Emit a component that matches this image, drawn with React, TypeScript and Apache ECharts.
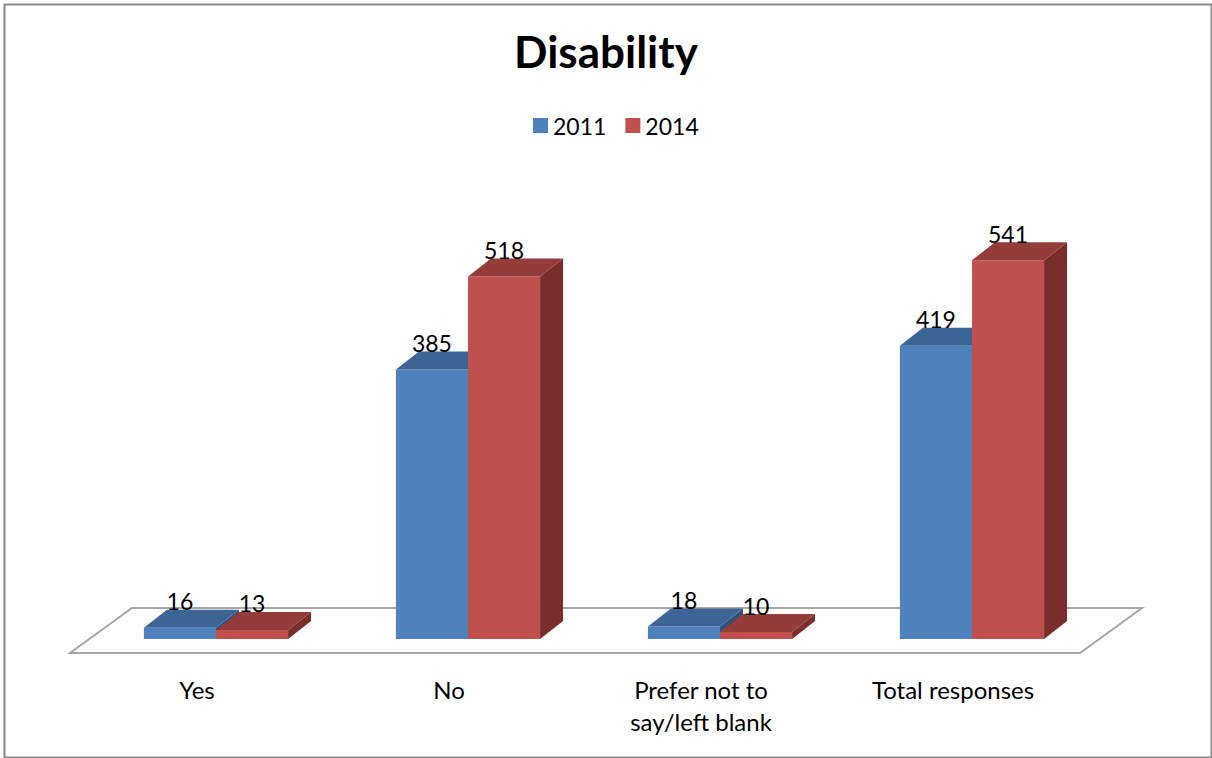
import React, { useEffect, useRef } from "react";
import * as echarts from "echarts";

const categories = ["Yes", "No", "Prefer not to\nsay/left blank", "Total responses"];
const seriesNames = ["2011", "2014"];
const values2011 = [16, 385, 18, 419];
const values2014 = [13, 518, 10, 541];

const FONT = "Lato, 'Open Sans', sans-serif";
const palette = [
  { front: "#4F81BD", top: "#3C6596", side: "#2F5178" },
  { front: "#C0504D", top: "#933C3A", side: "#7A2E2C" },
];
const DEPTH_X = 23;
const DEPTH_Y = 18;
const BAR_RATIO = 0.286;

function makeBarRender(k: number) {
  return (params: any, api: any) => {
    const idx = api.value(0);
    const val = api.value(1);
    const base = api.coord([idx, 0]);
    const top = api.coord([idx, val]);
    const w = api.size([1, 0])[0] * BAR_RATIO;
    const x0 = k === 0 ? base[0] - w : base[0];
    const x1 = x0 + w;
    const ty = top[1];
    const by = base[1];
    const c = palette[k];
    return {
      type: "group",
      children: [
        {
          type: "polygon",
          shape: { points: [[x1, ty], [x1 + DEPTH_X, ty - DEPTH_Y], [x1 + DEPTH_X, by - DEPTH_Y], [x1, by]] },
          style: { fill: c.side },
        },
        {
          type: "rect",
          shape: { x: x0, y: ty, width: w, height: by - ty },
          style: { fill: c.front },
        },
        {
          type: "polygon",
          shape: { points: [[x0, ty], [x1, ty], [x1 + DEPTH_X, ty - DEPTH_Y], [x0 + DEPTH_X, ty - DEPTH_Y]] },
          style: { fill: c.top },
        },
        {
          type: "text",
          z2: 100,
          style: {
            text: String(val),
            x: (x0 + x1) / 2,
            y: ty - DEPTH_Y + 3,
            align: "center",
            verticalAlign: "bottom",
            fontSize: 23,
            fontFamily: FONT,
            fill: "#000",
          },
        },
      ],
    };
  };
}

function floorRender(params: any) {
  const cs = params.coordSys;
  const zeroY = cs.y + cs.height;
  const fy = zeroY + 14;
  const byy = zeroY - 31;
  const right = cs.x + cs.width;
  return {
    type: "polygon",
    shape: {
      points: [
        [cs.x - 20, fy],
        [right - 18, fy],
        [right + 44, byy],
        [cs.x + 42, byy],
      ],
    },
    style: { fill: "#fff", stroke: "#A6A6A6", lineWidth: 2 },
  };
}

export default function App() {
  const ref = useRef<HTMLDivElement>(null);
  useEffect(() => {
    document.body.style.margin = "0";
    const chart = echarts.init(ref.current!, undefined, { renderer: "svg" });
    chart.setOption({
      animation: false,
      backgroundColor: "#fff",
      title: {
        text: "Disability",
        left: "center",
        top: 24,
        textStyle: { fontSize: 44, fontWeight: "bold", fontFamily: FONT, color: "#000" },
      },
      legend: {
        data: seriesNames,
        top: 109,
        left: 528,
        icon: "rect",
        itemWidth: 15,
        itemHeight: 15,
        itemGap: 19,
        textStyle: { fontSize: 23, fontFamily: FONT, color: "#000" },
      },
      graphic: [
        {
          type: "rect",
          left: 2,
          top: 2,
          shape: { width: 1207, height: 753 },
          style: { fill: "none", stroke: "#898989", lineWidth: 2 },
          z: -10,
        },
      ],
      grid: { left: 90, right: 114, top: 219, bottom: 119 },
      xAxis: {
        type: "category",
        data: categories,
        axisLine: { show: false },
        axisTick: { show: false },
        axisLabel: {
          interval: 0,
          margin: 34,
          fontSize: 24,
          lineHeight: 32,
          fontFamily: FONT,
          color: "#000",
          padding: [0, 38, 0, 0],
        },
      },
      yAxis: { type: "value", min: 0, max: 600, show: false },
      series: [
        {
          type: "custom",
          name: "floor",
          silent: true,
          z: 1,
          data: [[0]],
          renderItem: floorRender,
        },
        {
          type: "custom",
          name: seriesNames[0],
          z: 2,
          itemStyle: { color: palette[0].front },
          data: values2011.map((v, i) => [i, v]),
          renderItem: makeBarRender(0),
        },
        {
          type: "custom",
          name: seriesNames[1],
          z: 3,
          itemStyle: { color: palette[1].front },
          data: values2014.map((v, i) => [i, v]),
          renderItem: makeBarRender(1),
        },
      ],
    });
    return () => chart.dispose();
  }, []);
  return <div ref={ref} style={{ width: 1212, height: 758 }} />;
}
